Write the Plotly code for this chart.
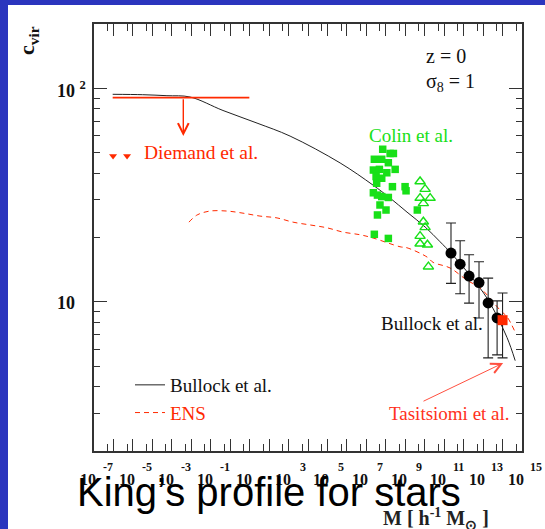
import numpy as np
import plotly.graph_objects as go

# ---------------- data (mass given as log10 M [h^-1 Msun]) ----------------
bullock_model_logm = [-6.04, -4.5, -3.25, -2.06, -0.37, 1.38, 3.08, 5.65, 7.34, 8.22, 9.09,
                      10.02, 10.79, 11.35, 12.3, 13.26, 14.23, 14.65]
bullock_model_c = [93.7, 93.3, 92.3, 91.0, 78.7, 68.7, 59.7, 44.7, 35.2, 30.6, 26.3,
                   22.4, 19.1, 16.9, 13.4, 10.2, 6.8, 5.3]

ens_logm = [-2.12, -1.70, -1.04, -0.16, 0.66, 1.53, 2.41, 3.23, 4.11, 4.98, 5.80, 6.68,
            7.34, 8.73, 9.09, 10.12, 10.43, 11.30, 12.18, 12.85, 13.87, 14.23, 14.65]
ens_c = [23.6, 25.5, 26.6, 26.6, 26.0, 25.2, 24.7, 23.6, 22.9, 22.2, 21.2, 20.6,
         19.9, 18.1, 17.9, 16.2, 15.3, 14.4, 12.6, 11.6, 9.15, 8.5, 7.2]

bullock_logm = [11.35, 11.82, 12.28, 12.79, 13.26, 13.72]
bullock_c = [16.9, 15.0, 13.2, 12.3, 9.87, 8.4]
bullock_c_hi = [23.4, 19.3, 16.6, 15.4, 12.9, 10.1]
bullock_c_lo = [12.2, 10.9, 9.86, 8.4, 5.46, 5.64]

colin_sq_logm = [7.84, 8.22, 8.39, 7.41, 7.79, 8.13, 7.36, 7.67, 8.05, 8.48, 7.50, 7.79, 7.53,
                 8.34, 8.99, 9.04, 7.36, 7.57, 7.79, 8.13, 7.70, 8.01, 9.62, 7.57, 7.41, 8.13]
colin_sq_c = [51.8, 49.5, 49.5, 46.5, 46.5, 44.8, 41.4, 41.7, 40.2, 41.7, 38.6, 37.9, 35.9,
              34.6, 34.6, 33.1, 32.4, 31.6, 31.1, 30.8, 28.4, 26.9, 26.9, 25.5, 20.7, 19.8]

colin_tri_logm = [9.76, 10.02, 9.76, 10.28, 9.93, 9.93, 10.02, 9.76, 9.76, 10.14, 10.19]
colin_tri_c = [36.6, 33.7, 30.6, 30.6, 28.9, 23.7, 22.3, 20.3, 18.7, 18.5, 14.6]

diemand_logm = [-6.02, -5.30]
diemand_c = [48.2, 48.2]
diemand_limit_logm = [-6.04, 0.985]
diemand_limit_c = [90.4, 90.4]
diemand_arrow_logm = -2.41
diemand_arrow_c = [90.4, 59.7]

tasitsiomi_logm = [14.0]
tasitsiomi_c = [8.2]
tasitsiomi_c_hi = [11.0]
tasitsiomi_c_lo = [5.46]

x_tick_exponents = list(range(-7, 16))
x_minor_exponents = list(range(-8, 15))
x_label_exponents = [-7, -5, -3, -1, 1, 3, 5, 7, 9, 11, 13, 15]
y_major = [10, 100]
y_major_text = ['<b>10</b>', '<b>10 <sup>2</sup></b>']
y_minor = [2, 3, 4, 5, 6, 7, 8, 9, 20, 30, 40, 50, 60, 70, 80, 90, 200]

# ---------------- style ----------------
RED = '#ff2a00'
GREEN = '#18e018'
BLACK = '#111111'
AX = '#333333'
BLUE = '#2b35be'
SERIF = 'Liberation Serif'
SANS = 'Liberation Sans'

W, H = 545, 529
ML, MR, MT, MB = 94, 23, 24, 78
PW, PH = W - ML - MR, H - MT - MB


def px2paper_x(px):
    return (px - ML) / PW


def px2paper_y(py):
    return (H - MB - py) / PH


def p10(v):
    return [10.0 ** a for a in v]


fig = go.Figure()

fig.add_trace(go.Scatter(x=p10(bullock_model_logm), y=bullock_model_c, mode='lines',
                         line=dict(color='#222222', width=1, shape='spline'),
                         name='Bullock et al.', showlegend=True))
fig.add_trace(go.Scatter(x=p10(ens_logm), y=ens_c, mode='lines',
                         line=dict(color=RED, width=1, dash='5px,4px', shape='spline'),
                         name="<span style='color:%s'>ENS</span>" % RED, showlegend=True))

fig.add_trace(go.Scatter(x=p10(diemand_limit_logm), y=diemand_limit_c, mode='lines',
                         line=dict(color=RED, width=1.6), showlegend=False))
fig.add_trace(go.Scatter(x=p10(diemand_logm), y=diemand_c, mode='markers',
                         marker=dict(symbol='triangle-down', size=7, color=RED), showlegend=False))

fig.add_trace(go.Scatter(x=p10(colin_sq_logm), y=colin_sq_c, mode='markers',
                         marker=dict(symbol='square', size=7.5, color=GREEN), showlegend=False))
fig.add_trace(go.Scatter(x=p10(colin_tri_logm), y=colin_tri_c, mode='markers',
                         marker=dict(symbol='triangle-up-open', size=9, color=GREEN,
                                     line=dict(width=1.4, color=GREEN)), showlegend=False))

fig.add_trace(go.Scatter(x=p10(bullock_logm), y=bullock_c, mode='markers',
                         marker=dict(symbol='circle', size=11, color='black'),
                         error_y=dict(type='data', symmetric=False,
                                      array=[h - c for h, c in zip(bullock_c_hi, bullock_c)],
                                      arrayminus=[c - l for l, c in zip(bullock_c_lo, bullock_c)],
                                      color='#222222', thickness=1.1, width=5),
                         showlegend=False))
fig.add_trace(go.Scatter(x=p10(tasitsiomi_logm), y=tasitsiomi_c, mode='markers',
                         marker=dict(symbol='square', size=10, color=RED),
                         error_y=dict(type='data', symmetric=False,
                                      array=[h - c for h, c in zip(tasitsiomi_c_hi, tasitsiomi_c)],
                                      arrayminus=[c - l for l, c in zip(tasitsiomi_c_lo, tasitsiomi_c)],
                                      color='#222222', thickness=1.1, width=5),
                         showlegend=False))

ann = []
# Diemand upper-limit arrow
ann.append(dict(x=diemand_arrow_logm, y=np.log10(diemand_arrow_c[1]), xref='x', yref='y',
                ax=diemand_arrow_logm, ay=np.log10(diemand_arrow_c[0]), axref='x', ayref='y',
                text='', showarrow=True, arrowhead=5, arrowwidth=1.4, arrowsize=1.5,
                arrowcolor=RED, standoff=0, startstandoff=0))
# Tasitsiomi arrow
ann.append(dict(x=14.03, y=0.713, xref='x', yref='y', ax=9.86, ay=0.531, axref='x', ayref='y',
                text='', showarrow=True, arrowhead=5, arrowwidth=1, arrowsize=2,
                arrowcolor='#ff5040', standoff=0, startstandoff=0))


def txt(x, y, s, color, size=19, xanchor='left'):
    ann.append(dict(x=x, y=y, xref='x', yref='y', text=s, showarrow=False,
                    xanchor=xanchor, yanchor='middle',
                    font=dict(family=SERIF, size=size, color=color)))


txt(-4.53, np.log10(49.9), 'Diemand et al.', RED, 19.5)
txt(7.04, 1.781, 'Colin et al.', GREEN, 19)
txt(7.65, 0.9005, 'Bullock et al.', BLACK, 19)
txt(8.06, 0.479, 'Tasitsiomi et al.', '#ff3020', 19)
txt(9.97, 2.151, 'z = 0', BLACK, 20)
txt(9.97, 2.029, 'σ<sub>8</sub> = 1', BLACK, 20)

# x tick labels
for k in x_label_exponents:
    ann.append(dict(x=k, y=px2paper_y(479), xref='x', yref='paper', text='<b>10</b>',
                    showarrow=False, xanchor='center', yanchor='middle', xshift=-6,
                    font=dict(family=SERIF, size=16, color=BLACK)))
    if k != 1:
        ann.append(dict(x=k, y=px2paper_y(467.5), xref='x', yref='paper', text='<b>%d</b>' % k,
                        showarrow=False, xanchor='center', yanchor='middle', xshift=14,
                        font=dict(family=SERIF, size=12, color=BLACK)))
# y tick labels
for v, t in zip(y_major, y_major_text):
    ann.append(dict(x=px2paper_x(55), y=np.log10(v), xref='paper', yref='y', text=t,
                    showarrow=False, xanchor='left', yanchor='middle', yshift=-1,
                    font=dict(family=SERIF, size=18, color=BLACK)))

# axis titles
ann.append(dict(x=px2paper_x(28), y=px2paper_y(41), xref='paper', yref='paper',
                text='<b>c<sub>vir</sub></b>', textangle=-90, showarrow=False,
                xanchor='center', yanchor='middle', font=dict(family=SERIF, size=22, color=BLACK)))
ann.append(dict(x=px2paper_x(381), y=px2paper_y(519), xref='paper', yref='paper',
                text='<b>M [ h<sup>-1</sup> M<sub>⊙</sub> ]</b>', showarrow=False,
                xanchor='left', yanchor='middle', font=dict(family=SERIF, size=20, color='#222222')))
# slide overlay text
ann.append(dict(x=px2paper_x(75), y=px2paper_y(492), xref='paper', yref='paper',
                text='King’s profile for stars', showarrow=False,
                xanchor='left', yanchor='middle', font=dict(family=SANS, size=40, color='black')))

fig.update_layout(
    width=W, height=H, margin=dict(l=ML, r=MR, t=MT, b=MB, pad=0),
    paper_bgcolor=BLUE, plot_bgcolor='white',
    shapes=[dict(type='rect', xref='paper', yref='paper', layer='below',
                 x0=px2paper_x(8), x1=px2paper_x(W + 2), y0=px2paper_y(H + 2), y1=px2paper_y(5),
                 fillcolor='white', line=dict(width=0))],
    annotations=ann,
    showlegend=True,
    legend=dict(x=px2paper_x(130), y=px2paper_y(366), xanchor='left', yanchor='top',
                bgcolor='rgba(0,0,0,0)', borderwidth=0,
                font=dict(family=SERIF, size=19, color=BLACK)),
)
fig.update_xaxes(type='log', range=[-7, 15], showgrid=False, zeroline=False,
                 showline=True, linecolor=AX, linewidth=1.5, mirror='ticks',
                 ticks='inside', tickvals=p10(x_tick_exponents), ticklen=12, tickcolor=AX,
                 tickwidth=1, showticklabels=False,
                 minor=dict(tickmode='array', tickvals=[5 * 10.0 ** k for k in x_minor_exponents],
                            ticks='inside', ticklen=7, tickcolor=AX, tickwidth=1, showgrid=False))
fig.update_yaxes(type='log', range=[np.log10(2), np.log10(200)], showgrid=False, zeroline=False,
                 showline=True, linecolor=AX, linewidth=1.5, mirror='ticks',
                 ticks='inside', tickvals=y_major, ticklen=13, tickcolor=AX, tickwidth=1,
                 showticklabels=False,
                 minor=dict(tickmode='array', tickvals=y_minor, ticks='inside', ticklen=6,
                            tickcolor=AX, tickwidth=1, showgrid=False))

fig.write_html('out.html')
